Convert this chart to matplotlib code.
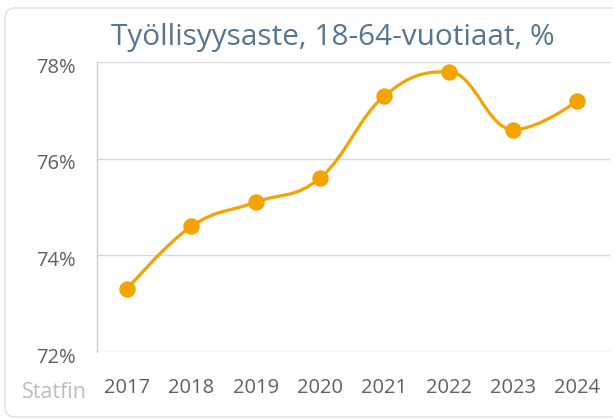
import numpy as np
import matplotlib
matplotlib.use("Agg")
import matplotlib.pyplot as plt
import matplotlib.transforms as mtransforms
from matplotlib.path import Path
from matplotlib.patches import PathPatch, FancyBboxPatch

years = ["2017", "2018", "2019", "2020", "2021", "2022", "2023", "2024"]
values = [73.3, 74.6, 75.1, 75.6, 77.3, 77.8, 76.6, 77.2]
yticks = [72, 74, 76, 78]
ytick_labels = ["72%", "74%", "76%", "78%"]
title = "Työllisyysaste, 18-64-vuotiaat, %"
source = "Statfin"

LINE = "#f5a300"
plt.rcParams['font.family'] = ['Open Sans', 'DejaVu Sans']

W, H = 613, 419
fig = plt.figure(figsize=(W/100, H/100), dpi=100)
fig.patch.set_facecolor("white")

# card background (pixel coordinates, origin bottom-left)
card = FancyBboxPatch((5, H-417), 700, 409,
                      boxstyle="round,pad=0,rounding_size=10",
                      transform=mtransforms.IdentityTransform(), facecolor="white",
                      edgecolor="#e0e0e0", linewidth=1.0, zorder=-10)
fig.patches.append(card)

ax = fig.add_axes([97/W, 1-352/H, (610-97)/W, (352-62)/H])
ax.set_zorder(1)
ax.set_facecolor("none")

x = np.arange(len(values), dtype=float)
y = np.array(values, dtype=float)

# Highcharts-like spline control points
sm = 1.5
n = len(x)
lcx, lcy, rcx, rcy = x.copy(), y.copy(), x.copy(), y.copy()
for i in range(1, n-1):
    px, py = x[i], y[i]
    lx, ly = x[i-1], y[i-1]
    nx, ny = x[i+1], y[i+1]
    a = (sm*px + lx)/(sm+1); b = (sm*py + ly)/(sm+1)
    c = (sm*px + nx)/(sm+1); d = (sm*py + ny)/(sm+1)
    corr = (d - b)*(c - px)/(c - a) + py - d
    b += corr; d += corr
    if b > ly and b > py:
        b = max(ly, py); d = 2*py - b
    elif b < ly and b < py:
        b = min(ly, py); d = 2*py - b
    if d > ny and d > py:
        d = max(ny, py); b = 2*py - d
    elif d < ny and d < py:
        d = min(ny, py); b = 2*py - d
    lcx[i], lcy[i], rcx[i], rcy[i] = a, b, c, d

verts = [(x[0], y[0])]
codes = [Path.MOVETO]
for i in range(1, n):
    verts += [(rcx[i-1], rcy[i-1]), (lcx[i], lcy[i]), (x[i], y[i])]
    codes += [Path.CURVE4]*3
ax.add_patch(PathPatch(Path(verts, codes), facecolor="none", edgecolor=LINE,
                       linewidth=2.3, capstyle="round", zorder=3))
ax.plot(x, y, linestyle="none", marker="o", markersize=10.8, color=LINE, zorder=4)

ax.set_xlim(-0.466, 7.505)
ax.set_ylim(72, 78)
ax.set_yticks(yticks)
ax.set_yticklabels(ytick_labels)
ax.set_xticks(x)
ax.set_xticklabels(years)
ax.grid(axis="y", color="#d9d9d9", linewidth=1.0)
ax.set_axisbelow(True)
for s in ["top", "right", "bottom"]:
    ax.spines[s].set_visible(False)
ax.spines["left"].set_color("#cccccc")
ax.spines["left"].set_linewidth(1.0)
ax.tick_params(axis="both", length=0, colors="#606060", labelsize=14.5)
ax.tick_params(axis="y", pad=15)
ax.tick_params(axis="x", pad=18.5)
shift = mtransforms.ScaledTranslation(0, -3/100, fig.dpi_scale_trans)
for lab in ax.get_yticklabels():
    lab.set_transform(lab.get_transform() + shift)

fig.text(332.5/W, 1-37/H, title, ha="center", va="center",
         fontsize=21.4, color="#587590")
fig.text(54/W, 1-392/H, source, ha="center", va="center",
         fontsize=15.5, color="#bcbcbc")

fig.savefig("out.png", dpi=100, facecolor="white")
